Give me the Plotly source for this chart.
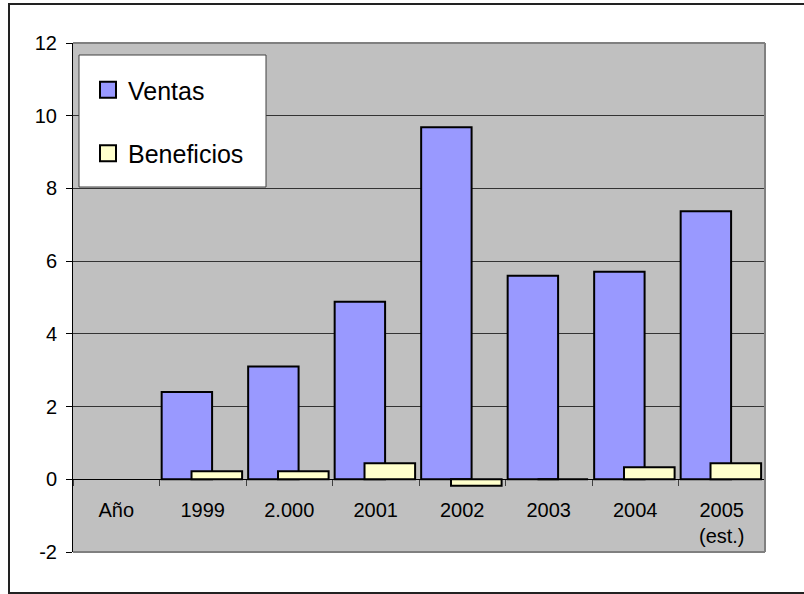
import plotly.graph_objects as go

categories = ["Año", "1999", "2.000", "2001", "2002", "2003", "2004", "2005<br>(est.)"]
ventas = [None, 2.4, 3.1, 4.88, 9.68, 5.6, 5.71, 7.37]
beneficios = [None, 0.22, 0.22, 0.44, -0.18, 0, 0.33, 0.44]
y_tickvals = [-2, 0, 2, 4, 6, 8, 10, 12]
y_ticktext = ["-2", "0", "2", "4", "6", "8", "10", "12"]

W, H = 804, 594
ML, MR, MT, MB = 73, 39, 43, 42
pw = W - ML - MR
ph = H - MT - MB

def px_x(p):
    return (p - ML) / pw

def px_y(p):
    return (H - MB - p) / ph

FONT = "Liberation Sans, Arial, sans-serif"
yrange = [-2, 12]
C_V = "#9999FF"
C_B = "#FFFFCC"

fig = go.Figure()
fig.add_trace(go.Bar(
    x=categories, y=ventas, name="Ventas", showlegend=False,
    offset=-0.475, width=0.583,
    marker=dict(color=C_V, line=dict(color="black", width=2)),
))
fig.add_trace(go.Bar(
    x=categories, y=beneficios, name="Beneficios", showlegend=False,
    offset=-0.13, width=0.585,
    marker=dict(color=C_B, line=dict(color="black", width=2)),
))
# legend entries (square swatches)
for name, col, grp in [("Ventas", C_V, "v"), ("Beneficios", C_B, "b")]:
    fig.add_trace(go.Scatter(
        x=[None], y=[None], mode="markers", name=name, legendgroup=grp,
        marker=dict(symbol="square", size=16, color=col, line=dict(color="black", width=2)),
        hoverinfo="skip",
    ))

zero_pos = (0 - yrange[0]) / (yrange[1] - yrange[0])

fig.update_layout(
    width=W, height=H,
    margin=dict(l=ML, r=MR, t=MT, b=MB, autoexpand=False),
    paper_bgcolor="white",
    plot_bgcolor="#C0C0C0",
    barmode="overlay",
    font=dict(family=FONT, size=20, color="black"),
    showlegend=True,
    legend=dict(
        x=px_x(88), y=px_y(67), xanchor="left", yanchor="top",
        bgcolor="rgba(0,0,0,0)", borderwidth=0,
        font=dict(size=25, family=FONT, color="black"),
        tracegroupgap=28,
    ),
    xaxis=dict(
        type="category", anchor="free", position=zero_pos,
        showline=True, linecolor="black", linewidth=1,
        ticks="outside", tickson="boundaries", ticklen=6, tickcolor="#404040",
        showgrid=False, zeroline=False,
        tickfont=dict(size=20, family=FONT, color="black"),
        ticklabelstandoff=13,
        range=[-0.5, 7.5],
    ),
    yaxis=dict(
        range=yrange, tickmode="array", tickvals=y_tickvals, ticktext=y_ticktext,
        showline=True, linecolor="black", linewidth=1,
        ticks="outside", ticklen=6, tickcolor="black",
        showgrid=True, gridcolor="#333333", gridwidth=1,
        zeroline=False,
        tickfont=dict(size=20, family=FONT, color="black"),
        ticklabelstandoff=5,
    ),
    shapes=[
        dict(type="line", xref="paper", yref="paper", x0=0, x1=1, y0=1, y1=1,
             line=dict(color="#808080", width=2)),
        dict(type="line", xref="paper", yref="paper", x0=1, x1=1, y0=0, y1=1,
             line=dict(color="#808080", width=2)),
        dict(type="line", xref="paper", yref="paper", x0=0, x1=1, y0=0, y1=0,
             line=dict(color="#808080", width=2)),
        dict(type="rect", xref="paper", yref="paper",
             x0=px_x(79), x1=px_x(266), y0=px_y(187), y1=px_y(55),
             fillcolor="white", line=dict(color="#404040", width=1), layer="above"),
        dict(type="rect", xref="paper", yref="paper",
             x0=px_x(9), x1=px_x(810), y0=px_y(593), y1=px_y(4),
             line=dict(color="#222222", width=2), layer="above"),
    ],
)

fig.write_html("out.html")
